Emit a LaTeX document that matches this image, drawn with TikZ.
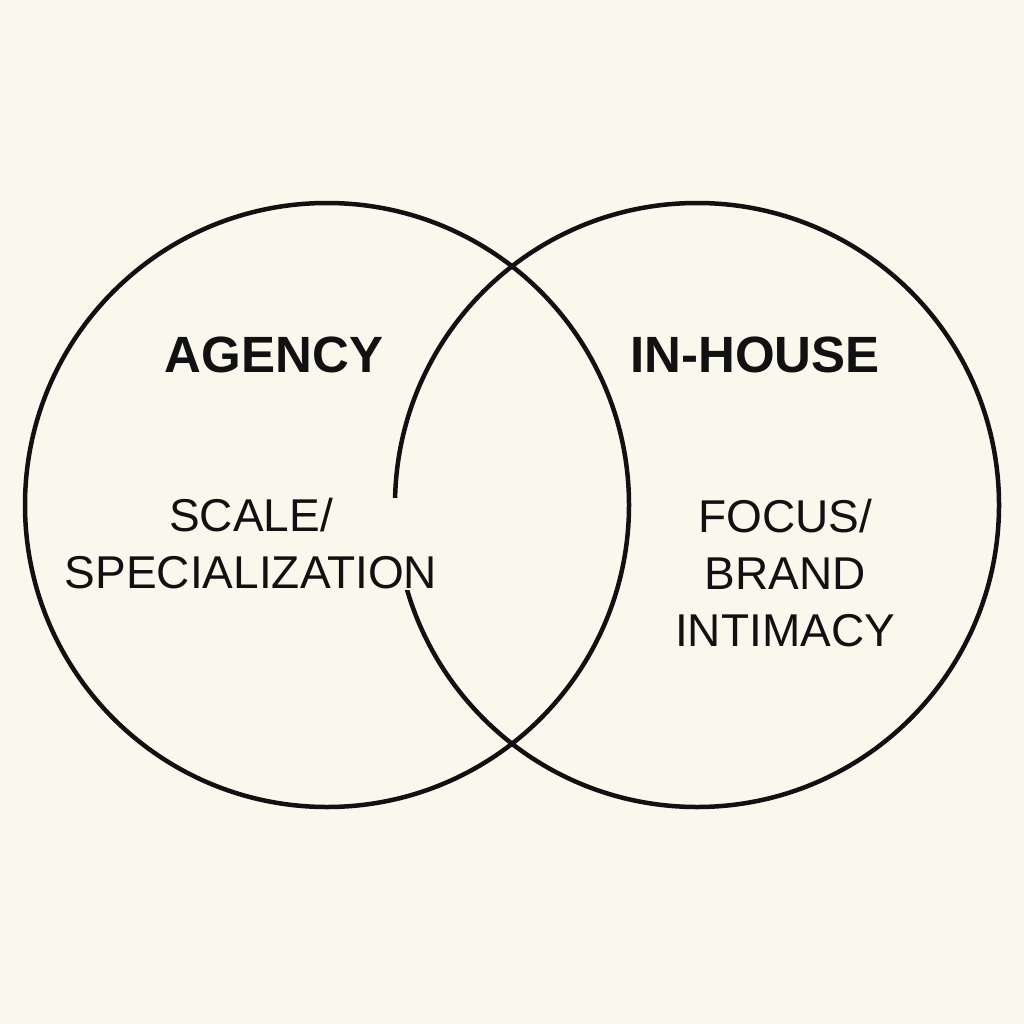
\documentclass[tikz,border=0pt]{standalone}
\usepackage{fontspec}
\setmainfont{Liberation Sans}
\definecolor{bg}{HTML}{FAF7EC}
\definecolor{ink}{HTML}{111111}
\tikzset{ring/.style={draw=ink,line width=4.5pt},
 title/.style={font=\fontsize{51}{55}\selectfont\bfseries,text=ink},
 body/.style={font=\fontsize{46}{57}\selectfont,text=ink,align=center,fill=bg,inner sep=1pt}}
\begin{document}
\begin{tikzpicture}[x=1pt,y=-1pt]
\fill[bg] (0,0) rectangle (1024,1024);
\useasboundingbox (0,0) rectangle (1024,1024);
\node[ring,circle,minimum size=604pt] (L) at (327,505) {};
\node[ring,circle,minimum size=604pt] (R) at (697,505) {};
\node[title] (a) at (274,355) {AGENCY};
\node[title] (b) at (755,355) {IN-HOUSE};
\node[body] (c) at (251,544) {SCALE/\\SPECIALIZATION};
\node[body,fill=none] (d) at (785,573) {FOCUS/\\BRAND\\INTIMACY};
\end{tikzpicture}
\end{document}
